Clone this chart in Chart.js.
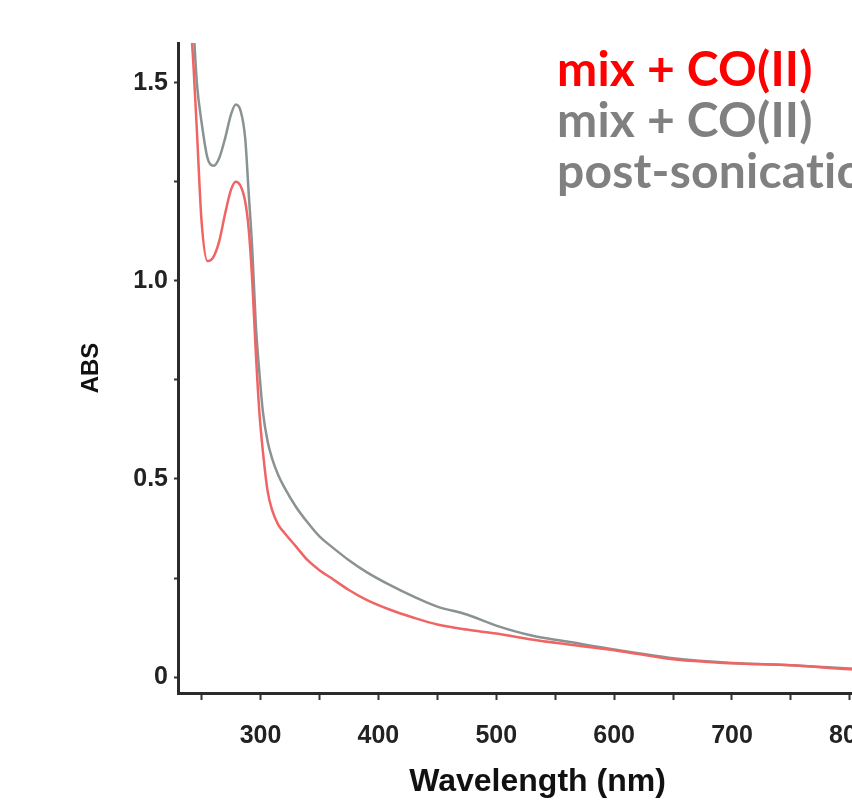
<!DOCTYPE html>
<html>
<head>
<meta charset="utf-8">
<title>ABS spectrum</title>
<script src="https://cdn.jsdelivr.net/npm/chart.js@4"></script>
<style>
  html, body { margin: 0; padding: 0; background: #fff; overflow: hidden; }
  #wrap { position: relative; width: 900px; height: 807px; }
</style>
</head>
<body>
<div id="wrap"><canvas id="absChart" width="900" height="807"></canvas></div>
<script>
// 波長 (nm)
const wavelength = [240, 243, 246, 250, 255, 260, 265, 270, 275, 279, 283, 287, 290, 293, 296, 299, 302, 306, 310, 315,
                    320, 330, 340, 350, 360, 375, 390, 410, 430, 450, 475, 500, 530, 560, 600, 650, 700, 750, 800, 830];
// mix + CO(II)
const absMix = [1.68, 1.55, 1.38, 1.15, 1.05, 1.06, 1.10, 1.17, 1.23, 1.25, 1.24, 1.20, 1.13, 1.00, 0.82, 0.67, 0.57, 0.47, 0.42, 0.385,
                0.365, 0.33, 0.295, 0.27, 0.25, 0.22, 0.195, 0.17, 0.15, 0.133, 0.12, 0.11, 0.095, 0.083, 0.068, 0.045, 0.035, 0.03, 0.02, 0.017];
// mix + CO(II) post-sonication
const absSonic = [1.8, 1.65, 1.5, 1.40, 1.31, 1.29, 1.31, 1.36, 1.42, 1.445, 1.43, 1.36, 1.22, 1.08, 0.89, 0.77, 0.67, 0.595, 0.55, 0.51,
                  0.48, 0.43, 0.39, 0.355, 0.33, 0.295, 0.265, 0.232, 0.203, 0.178, 0.158, 0.13, 0.105, 0.09, 0.07, 0.048, 0.036, 0.03, 0.022, 0.018];

const seriesLabels = ['mix + CO(II)', 'mix + CO(II) post-sonication'];
const legendLines = [['mix + CO(II)'], ['mix + CO(II)', 'post-sonication']];
// 目盛り（ラベル付きと補助目盛り）
const xTickValues = [300, 400, 500, 600, 700, 800];
const xMinorTicks = [250, 350, 450, 550, 650, 750];
const yTickValues = [0, 0.5, 1.0, 1.5];
const yMinorTicks = [0.25, 0.75, 1.25];

const lineRed = '#f06464';
const lineGray = '#8a9292';
const legendColors = ['#ff0000', '#808080'];

function toPoints(ys) {
    return wavelength.map((w, i) => ({ x: w, y: ys[i] }));
}

function tickList(major, minor) {
    return major.concat(minor).sort((a, b) => a - b).map(v => ({ value: v }));
}

// 右上の凡例テキスト
const textLegend = {
    id: 'textLegend',
    afterDraw(chart) {
        const ctx = chart.ctx;
        ctx.save();
        ctx.font = 'bold 48px Lato, "Liberation Sans", sans-serif';
        ctx.letterSpacing = '0.2px';
        ctx.textBaseline = 'alphabetic';
        ctx.textAlign = 'left';
        let y = 86;
        legendLines.forEach((lines, i) => {
            ctx.fillStyle = legendColors[i];
            lines.forEach(t => {
                ctx.fillText(t, 557, y);
                y += 51;
            });
        });
        ctx.restore();
    }
};

const axisFont = { family: '"Liberation Sans", Arial, sans-serif', weight: 'bold', size: 25 };

new Chart(document.getElementById('absChart').getContext('2d'), {
    type: 'line',
    data: {
        datasets: [{
            label: seriesLabels[0],
            data: toPoints(absMix),
            borderColor: lineRed,
            borderWidth: 2.5,
            pointRadius: 0,
            cubicInterpolationMode: 'monotone',
            fill: false
        }, {
            label: seriesLabels[1],
            data: toPoints(absSonic),
            borderColor: lineGray,
            borderWidth: 2.5,
            pointRadius: 0,
            cubicInterpolationMode: 'monotone',
            fill: false
        }]
    },
    options: {
        responsive: false,
        animation: false,
        layout: { padding: { left: 72, top: 43, right: 3, bottom: 0 } },
        plugins: {
            legend: { display: false },
            tooltip: { enabled: false }
        },
        scales: {
            x: {
                type: 'linear',
                min: 230,
                max: 840,
                afterFit(scale) { scale.height = 114; },
                afterBuildTicks(scale) {
                    scale.ticks = tickList(xTickValues, xMinorTicks);
                },
                ticks: {
                    autoSkip: false,
                    maxRotation: 0,
                    padding: 21,
                    color: '#222',
                    font: axisFont,
                    callback: v => xTickValues.includes(v) ? String(v) : ''
                },
                grid: {
                    display: true,
                    drawOnChartArea: false,
                    drawTicks: true,
                    tickLength: 7,
                    tickWidth: 2,
                    color: '#333'
                },
                border: { display: true, color: '#2a2a2a', width: 3 },
                title: {
                    display: true,
                    text: 'Wavelength (nm)',
                    color: '#111',
                    font: { family: '"Liberation Sans", Arial, sans-serif', weight: 'bold', size: 32 },
                    padding: { top: 0, bottom: 6 }
                }
            },
            y: {
                min: -0.04,
                max: 1.6,
                afterFit(scale) { scale.width = 106; },
                afterBuildTicks(scale) {
                    scale.ticks = tickList(yTickValues, yMinorTicks);
                },
                ticks: {
                    autoSkip: false,
                    padding: 6,
                    color: '#222',
                    font: axisFont,
                    callback: v => {
                        const hit = yTickValues.find(t => Math.abs(t - v) < 1e-6);
                        if (hit === undefined) return '';
                        return hit === 0 ? '0' : hit.toFixed(1);
                    }
                },
                grid: {
                    display: true,
                    drawOnChartArea: false,
                    drawTicks: true,
                    tickLength: 4,
                    tickWidth: 2,
                    color: '#333'
                },
                border: { display: true, color: '#2a2a2a', width: 3 },
                title: {
                    display: true,
                    text: 'ABS',
                    color: '#111',
                    font: { family: '"Liberation Sans", Arial, sans-serif', weight: 'bold', size: 24 },
                    padding: { top: 5, bottom: 0 }
                }
            }
        }
    },
    plugins: [textLegend]
});
</script>
</body>
</html>
